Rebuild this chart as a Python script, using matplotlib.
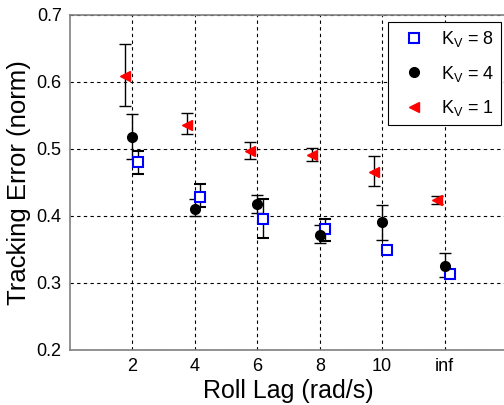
import numpy as np
import matplotlib.pyplot as plt
from matplotlib.lines import Line2D

plt.rcParams['font.family'] = ['Liberation Sans', 'DejaVu Sans']
plt.rcParams['mathtext.fontset'] = 'custom'
plt.rcParams['mathtext.rm'] = 'Liberation Sans'

# roll lag conditions (inf plotted at 12)
lag_labels = ['2', '4', '6', '8', '10', 'inf']
lag_pos = np.array([2, 4, 6, 8, 10, 12])

# tracking error means and error bar limits per gain
kv8_mean = [0.480, 0.429, 0.396, 0.381, 0.349, 0.313]
kv8_lo = [0.463, 0.414, 0.367, 0.363, 0.345, 0.308]
kv8_hi = [0.497, 0.447, 0.425, 0.396, 0.353, 0.318]

kv4_mean = [0.518, 0.411, 0.418, 0.372, 0.391, 0.326]
kv4_lo = [0.485, 0.400, 0.405, 0.359, 0.364, 0.309]
kv4_hi = [0.552, 0.425, 0.431, 0.386, 0.417, 0.344]

kv1_mean = [0.609, 0.536, 0.497, 0.491, 0.465, 0.424]
kv1_lo = [0.564, 0.522, 0.485, 0.482, 0.444, 0.418]
kv1_hi = [0.657, 0.553, 0.511, 0.502, 0.490, 0.430]

gains = ['8', '4', '1']

fig = plt.figure(figsize=(5.04, 4.05), dpi=100)
ax = fig.add_axes([0.139, 0.136, 0.867, 0.827])

def err(mean, lo, hi):
    mean = np.array(mean)
    return [mean - np.array(lo), np.array(hi) - mean]

sq = dict(marker='s', mfc='white', mec='blue', mew=1.5, ms=6.5)
dot = dict(marker='o', mfc='black', mec='black', ms=7)
tri = dict(marker='<', mfc='red', mec='red', ms=7.5)

ax.errorbar(lag_pos + 0.17, kv8_mean, yerr=err(kv8_mean, kv8_lo, kv8_hi),
            ls='none', ecolor='black', elinewidth=1, capsize=4.5, zorder=3, **sq)
ax.errorbar(lag_pos, kv4_mean, yerr=err(kv4_mean, kv4_lo, kv4_hi),
            ls='none', ecolor='black', elinewidth=1, capsize=4.5, zorder=3, **dot)
ax.errorbar(lag_pos - 0.25, kv1_mean, yerr=err(kv1_mean, kv1_lo, kv1_hi),
            ls='none', ecolor='black', elinewidth=1, capsize=4.5, zorder=3, **tri)

ax.set_xlim(0, 14)
ax.set_ylim(0.2, 0.7)
ax.set_xticks(lag_pos)
ax.set_xticklabels(lag_labels)
ax.set_yticks([0.2, 0.3, 0.4, 0.5, 0.6, 0.7])
ax.tick_params(labelsize=13, length=0, pad=6)
ax.grid(True, color='black', linestyle=(0, (3, 3)), linewidth=0.8)
ax.set_axisbelow(True)
for side in ['left', 'bottom', 'top']:
    ax.spines[side].set_color('#808080')
    ax.spines[side].set_linewidth(1.2)
ax.spines['right'].set_visible(False)

ax.set_xlabel('Roll Lag (rad/s)', fontsize=18, labelpad=3)
ax.set_ylabel('Tracking Error (norm)', fontsize=18.5, labelpad=4)

handles = [Line2D([], [], ls='none', **sq),
           Line2D([], [], ls='none', **dot),
           Line2D([], [], ls='none', **tri)]
labels = [r'K$_\mathregular{V}$ = ' + g for g in gains]
leg = ax.legend(handles, labels, loc='upper right',
                bbox_to_anchor=(501 / 504, 1 - 22 / 405),
                bbox_transform=fig.transFigure, fontsize=13, fancybox=False,
                framealpha=1, edgecolor='black', handlelength=2.1,
                handletextpad=0.4, borderpad=0.4, labelspacing=0.8,
                borderaxespad=0)
leg.get_frame().set_linewidth(0.8)

fig.savefig('out.png', dpi=100)
